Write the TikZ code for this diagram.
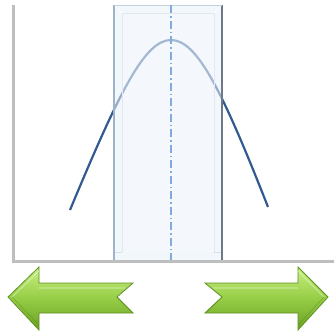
\documentclass[tikz,border=0pt]{standalone}
\usepackage{tikz}
\usetikzlibrary{calc}

\definecolor{axisgray}{RGB}{190,190,190}
\definecolor{curveblue}{RGB}{50,90,145}
\definecolor{bandfill}{RGB}{232,240,250}
\definecolor{bandedge}{RGB}{160,178,200}
\definecolor{banddark}{RGB}{110,120,135}
\definecolor{dashblue}{RGB}{130,170,220}
\definecolor{greenlight}{RGB}{200,240,130}
\definecolor{greenmid}{RGB}{150,205,70}
\definecolor{greendark}{RGB}{105,160,35}
\definecolor{greenedge}{RGB}{95,145,35}

\begin{document}
\begin{tikzpicture}[x=1pt,y=-1pt]
			\tikzset{
				greenarrow/.style={draw=greenedge, line width=0.8pt, top color=greenlight, bottom color=greendark, middle color=greenmid},
				bevel/.style={draw=white, line width=0.6pt}
			}
			\useasboundingbox (0,0) rectangle (334,333);

			% axes
			\draw [axisgray, line width=3pt] (13,5) -- (13,261) -- (334,261);

			% curve
			\draw [curveblue, line width=2.2pt] (70,210) .. controls (120,90) and (145,40) .. (171,40)
				.. controls (197,40) and (222,90) .. (268,207);

			% band
			\fill [bandfill, opacity=0.55] (114,5) rectangle (222,260);
			\fill [white, opacity=0.15] (122,13) rectangle (214,252);
			\draw [bevel] (114,5) -- (122,13);
			\draw [bevel] (222,5) -- (214,13);
			\draw [bandedge!40, line width=0.4pt] (114,252) -- (122,252) (214,252) -- (222,252);
			\draw [bandedge!30, line width=0.4pt] (122,13) -- (214,13) (214,13) -- (214,252) (122,13) -- (122,252);
			\draw [bandedge, line width=1.2pt] (114,5) -- (114,260);
			\draw [banddark, line width=1.5pt] (222,5) -- (222,260);
			\draw [bandedge!60, line width=0.6pt] (114,5) -- (222,5);

			% centre line
			\draw [dashblue, line width=1.2pt, dash pattern=on 8pt off 3pt on 1.5pt off 3pt] (171,5) -- (171,260);

			% left arrow
			\draw [greenarrow] (8,297) -- (39,267) -- (39,283) -- (133,283) -- (117,297)
				-- (133,313) -- (39,313) -- (39,330) -- cycle;
			\draw [white, opacity=0.6, line width=0.6pt] (12,297) -- (39,271) (39,288) -- (125,288);
			\draw [greenedge, opacity=0.6, line width=0.6pt] (117,297) -- (133,313) (12,297) -- (39,325);

			% right arrow
			\draw [greenarrow] (328,297) -- (298,267) -- (298,283) -- (205,283) -- (222,297)
				-- (205,313) -- (298,313) -- (298,330) -- cycle;
			\draw [white, opacity=0.6, line width=0.6pt] (213,288) -- (298,288) (298,271) -- (324,297);
			\draw [greenedge, opacity=0.6, line width=0.6pt] (324,297) -- (298,325) (222,297) -- (205,313);
		\end{tikzpicture}
\end{document}
